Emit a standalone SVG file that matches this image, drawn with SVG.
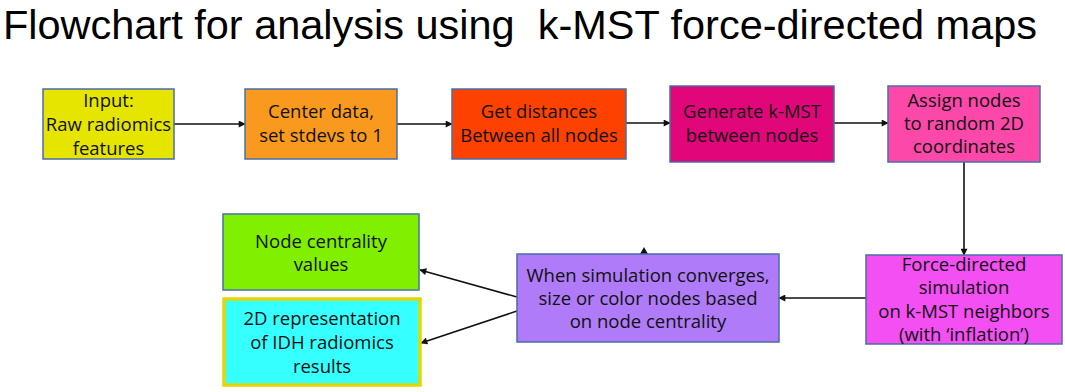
<svg xmlns="http://www.w3.org/2000/svg" width="1065" height="392" viewBox="0 0 1065 392">
<style>
.box{stroke:#4a6ea8;stroke-width:1.5}
.t{font-family:"Open Sans","Noto Sans","DejaVu Sans",sans-serif;font-size:18.5px;fill:#111;text-anchor:middle}
.title{font-family:"Liberation Sans",Arial,sans-serif;font-size:41px;fill:#000;white-space:pre}
.c{stroke:#111;stroke-width:1.6;fill:none;marker-end:url(#ah)}
</style>
<defs>
<marker id="ah" viewBox="0 0 10 10" refX="9" refY="5" markerWidth="8" markerHeight="7" markerUnits="userSpaceOnUse" orient="auto">
<path d="M0,0 L10,5 L0,10 z" fill="#111"/>
</marker>
</defs>
<rect width="1065" height="392" fill="#fff"/>
<text class="title" x="3" y="39" textLength="1034" lengthAdjust="spacingAndGlyphs" xml:space="preserve">Flowchart for analysis using  k-MST force-directed maps</text>

<g id="connectors">
<line class="c" x1="174" y1="124" x2="245" y2="124"/>
<line class="c" x1="397" y1="124" x2="452" y2="124"/>
<line class="c" x1="626" y1="123" x2="670" y2="123"/>
<line class="c" x1="834" y1="123" x2="888" y2="123"/>
<line class="c" x1="964" y1="162" x2="964" y2="255"/>
<line class="c" x1="866" y1="298" x2="779" y2="298"/>
<line class="c" x1="517" y1="297" x2="420" y2="270"/>
<line class="c" x1="517" y1="311" x2="421" y2="343"/>
<polygon points="644,247 648,254 640,254" fill="#111"/>
</g>

<g id="node-input">
<rect class="box" x="43" y="89" width="131" height="70" fill="#e5e500"/>
<text class="t" x="108.5" y="107">Input:</text>
<text class="t" x="108.5" y="131">Raw radiomics</text>
<text class="t" x="108.5" y="155">features</text>
</g>

<g id="node-center">
<rect class="box" x="245" y="89" width="152" height="70" fill="#f99a1e"/>
<text class="t" x="321" y="118">Center data,</text>
<text class="t" x="321" y="142">set stdevs to 1</text>
</g>

<g id="node-distances">
<rect class="box" x="452" y="89" width="174" height="70" fill="#fd4100"/>
<text class="t" x="539" y="118">Get distances</text>
<text class="t" x="539" y="142">Between all nodes</text>
</g>

<g id="node-kmst">
<rect class="box" x="670" y="86" width="164" height="76" fill="#e1077a"/>
<text class="t" x="752" y="118">Generate k-MST</text>
<text class="t" x="752" y="142">between nodes</text>
</g>

<g id="node-assign">
<rect class="box" x="888" y="86" width="152" height="76" fill="#fc48a8"/>
<text class="t" x="964" y="107">Assign nodes</text>
<text class="t" x="964" y="130">to random 2D</text>
<text class="t" x="964" y="153">coordinates</text>
</g>

<g id="node-force">
<rect class="box" x="866" y="255" width="196" height="89" fill="#f34ff3"/>
<text class="t" x="964" y="271">Force-directed</text>
<text class="t" x="964" y="294">simulation</text>
<text class="t" x="964" y="318">on k-MST neighbors</text>
<text class="t" x="964" y="341">(with ‘inflation’)</text>
</g>

<g id="node-converge">
<rect class="box" x="517" y="254" width="262" height="88" fill="#af7bf8"/>
<text class="t" x="648" y="282">When simulation converges,</text>
<text class="t" x="648" y="305">size or color nodes based</text>
<text class="t" x="648" y="328">on node centrality</text>
</g>

<g id="node-centrality">
<rect class="box" x="223" y="214" width="196" height="76" fill="#80f000"/>
<text class="t" x="321" y="248">Node centrality</text>
<text class="t" x="321" y="271">values</text>
</g>

<g id="node-2d">
<rect x="224" y="299" width="196" height="86" fill="#36ffff" stroke="#e3d600" stroke-width="3.5"/>
<text class="t" x="322" y="325">2D representation</text>
<text class="t" x="322" y="349">of IDH radiomics</text>
<text class="t" x="322" y="373">results</text>
</g>
</svg>
